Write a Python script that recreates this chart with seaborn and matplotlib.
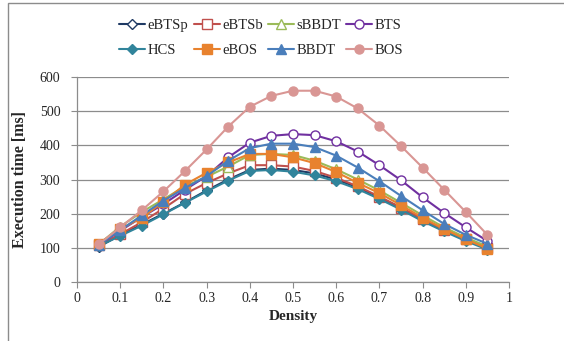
"""Execution time vs. density for labeling algorithms."""
import matplotlib
matplotlib.use("Agg")
import matplotlib.pyplot as plt
import matplotlib.patches as mpatches
import numpy as np
import pandas as pd
import seaborn as sns

density = [0.05, 0.10, 0.15, 0.20, 0.25, 0.30, 0.35, 0.40, 0.45, 0.50,
           0.55, 0.60, 0.65, 0.70, 0.75, 0.80, 0.85, 0.90, 0.95]

ebtsp = [103, 137, 168, 200, 233, 268, 300, 328, 332, 328,
         318, 300, 277, 248, 217, 183, 152, 125, 98]
ebtsb = [108, 140, 175, 215, 258, 290, 318, 342, 342, 338,
         325, 305, 280, 250, 218, 183, 152, 125, 100]
sbbdt = [110, 162, 205, 242, 280, 308, 338, 372, 375, 372,
         355, 330, 300, 268, 232, 195, 160, 130, 104]
bts = [108, 150, 190, 228, 270, 310, 365, 408, 428, 433,
       430, 412, 382, 342, 298, 248, 202, 160, 120]
hcs = [105, 135, 165, 198, 232, 265, 297, 325, 328, 323,
       312, 295, 272, 243, 212, 178, 148, 120, 95]
ebos = [112, 155, 188, 235, 285, 320, 350, 375, 375, 365,
        348, 322, 290, 260, 225, 188, 155, 125, 98]
bbdt = [108, 152, 195, 238, 275, 310, 355, 392, 405, 405,
        395, 370, 335, 295, 252, 210, 170, 138, 112]
bos = [110, 160, 210, 265, 325, 388, 455, 513, 545, 560,
       560, 543, 508, 458, 398, 335, 270, 205, 138]

series = {
    "eBTSp": ebtsp, "eBTSb": ebtsb, "sBBDT": sbbdt, "BTS": bts,
    "HCS": hcs, "eBOS": ebos, "BBDT": bbdt, "BOS": bos,
}

# colour, marker, open marker?
styles = {
    "eBTSp": ("#1F3A64", "D", True),
    "eBTSb": ("#C0504D", "s", True),
    "sBBDT": ("#9BBB59", "^", True),
    "BTS": ("#7030A0", "o", True),
    "HCS": ("#31849B", "D", False),
    "eBOS": ("#E8822E", "s", False),
    "BBDT": ("#4A7EBB", "^", False),
    "BOS": ("#D99694", "o", False),
}

df = pd.DataFrame(
    [(name, d, v) for name, vals in series.items() for d, v in zip(density, vals)],
    columns=["algo", "density", "time"],
)

sns.set_style("white")
plt.rcParams["font.family"] = ["Liberation Serif", "DejaVu Serif"]

fig = plt.figure(figsize=(5.64, 3.41), dpi=100)
ax = fig.add_axes([0.1365, 0.173, 0.766, 0.601])

handles = {}
for name in series:
    color, marker, hollow = styles[name]
    sub = df[df["algo"] == name]
    size = 6.5 if marker != "D" else 5.5
    sns.lineplot(data=sub, x="density", y="time", ax=ax, color=color,
                 marker=marker, markersize=size, linewidth=1.5,
                 markerfacecolor="white" if hollow else color,
                 markeredgecolor=color, markeredgewidth=1.0, label=name,
                 legend=False)
    handles[name] = ax.lines[-1]

ax.set_xlim(0, 1)
ax.set_ylim(0, 600)
ax.set_xticks(np.arange(0, 1.01, 0.1))
ax.set_xticklabels(["0", "0.1", "0.2", "0.3", "0.4", "0.5", "0.6", "0.7", "0.8", "0.9", "1"])
ax.set_yticks(range(0, 601, 100))
ax.grid(axis="y", color="#8c8c8c", linewidth=0.9)
ax.grid(axis="x", visible=False)
for s in ["top", "right"]:
    ax.spines[s].set_visible(False)
for s in ["left", "bottom"]:
    ax.spines[s].set_color("#8c8c8c")
    ax.spines[s].set_linewidth(0.9)
ax.tick_params(axis="both", direction="out", length=4, color="#8c8c8c",
               labelsize=10, left=True, bottom=True)
ax.tick_params(axis="y", pad=8)
ax.tick_params(axis="x", pad=3)
ax.set_xlabel("Density", fontsize=11, fontweight="bold", labelpad=4)
ax.set_ylabel("Execution time [ms]", fontsize=11.5, fontweight="bold", labelpad=8)

order = ["eBTSp", "HCS", "eBTSb", "eBOS", "sBBDT", "BBDT", "BTS", "BOS"]
fig.legend([handles[n] for n in order], order, loc="center",
           bbox_to_anchor=(0.463, 0.888), ncol=4, frameon=False, fontsize=10.5,
           handlelength=1.8, handletextpad=0.15, columnspacing=0.35,
           labelspacing=0.8)

frame = mpatches.Rectangle((8 / 564, -0.1), 1.2, 1.1 - 3 / 341,
                           transform=fig.transFigure, fill=False,
                           edgecolor="#8c8c8c", linewidth=1.0)
fig.patches.append(frame)

fig.savefig("out.png", dpi=100)
